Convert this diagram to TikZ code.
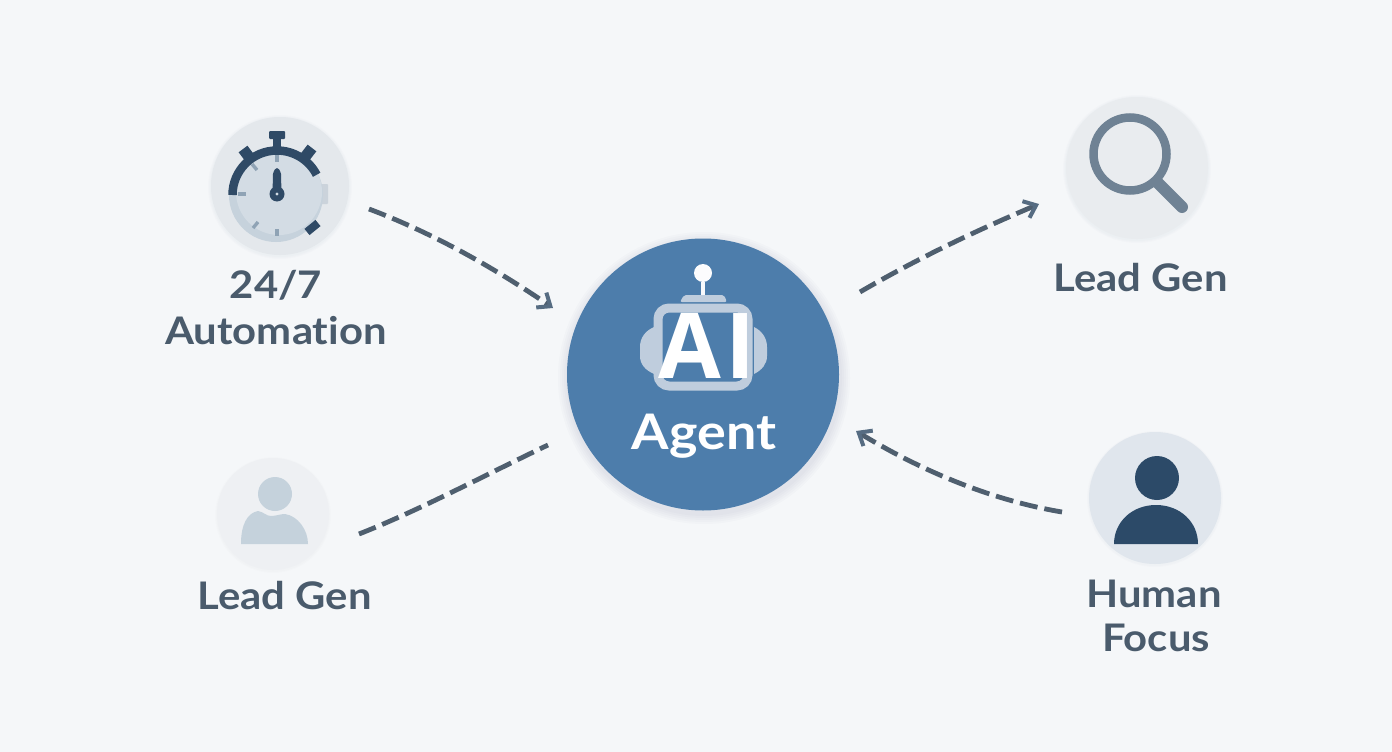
\documentclass[tikz,border=0pt]{standalone}
\usepackage{fontspec}
\setmainfont[FakeStretch=1.1,Ligatures=NoCommon]{Lato}
\newfontfamily\aifont{Open Sans}
\usetikzlibrary{arrows.meta}
\definecolor{bgc}{HTML}{F5F7F9}
\definecolor{txt}{HTML}{4A5B6C}
\definecolor{dashc}{HTML}{4F5F6F}
\definecolor{headc}{HTML}{566C82}
\definecolor{hubblue}{HTML}{4D7DAB}
\definecolor{pale}{HTML}{BFCDDD}
\definecolor{navy}{HTML}{2F4A66}
\definecolor{navyb}{HTML}{2C4A68}
\definecolor{discA}{HTML}{E4E8EC}
\definecolor{discB}{HTML}{E9ECEF}
\definecolor{discC}{HTML}{EEF0F3}
\definecolor{discD}{HTML}{E0E6ED}
\definecolor{faceC}{HTML}{C6D2DC}
\definecolor{faceL}{HTML}{D3DCE4}
\definecolor{tick}{HTML}{8FA3B5}
\definecolor{tabc}{HTML}{CBD3DB}
\definecolor{glass}{HTML}{6F8294}
\definecolor{personP}{HTML}{C5D2DC}
\tikzset{
 x=1pt,y=-1pt,
 disc/.style={circle,inner sep=0pt,draw=none},
 lbl/.style={text=txt,font=\fontsize{38}{44}\selectfont\bfseries,inner sep=0pt,anchor=base},
 link/.style={draw=dashc,line width=4.8pt,dash pattern=on 18pt off 7pt},
 linkhead/.style={link,-{Straight Barb[length=11pt,width=18pt,line width=4pt,color=headc]}},
 minor/.style={tick,line width=3.4pt},
 lug/.style={navy,line width=11pt},
}
\begin{document}
\begin{tikzpicture}
\useasboundingbox (0,0) rectangle (1392,752);
\fill[bgc] (0,0) rectangle (1392,752);
% central shadow
\foreach \r in {146,144,142,140,138}{\fill[navy,opacity=.02] (704,378) circle (\r);}
\node[disc,fill=hubblue,minimum size=272pt] (hub) at (703,374.5) {};
% robot
\fill[pale] (654,327) .. controls (645,331) and (640,338) .. (640,347) -- (640,356) .. controls (640,364) and (645,370) .. (654,374) -- cycle;
\fill[pale] (754,327) .. controls (762,331) and (767,338) .. (767,347) -- (767,356) .. controls (767,364) and (762,370) .. (754,374) -- cycle;
\fill[pale,rounded corners=2pt] (680,302) -- (684,295) -- (724,295) -- (727,302) -- cycle;
\draw[pale,line width=9pt,rounded corners=11pt] (658,308) rectangle (748,386);
\node[disc,fill=white!95!pale,minimum size=18pt] (ball) at (703,273) {};
\coordinate (mast) at (703,295);
\draw[white!90!pale,line width=4pt] (ball) -- (mast);
\node[inner sep=0pt,text=white,anchor=base,font=\aifont\fontsize{91}{91}\selectfont\bfseries] (ai) at (707,378) {A\kern5pt I};
\node[inner sep=0pt,text=white,anchor=base,font=\fontsize{49}{54}\selectfont\bfseries] (agent) at (704,449) {Agent};
% stopwatch
\foreach \r in {72,71,70}{\fill[navy,opacity=.012] (280,187) circle (\r);}
\node[disc,fill=discA,minimum size=138pt] (d1) at (280,186) {};
\fill[tabc,rounded corners=1pt] (318,184) rectangle (328,204);
\fill[faceC] (276,195) circle (47);
\fill[faceL] (279,192) circle (43);
\draw[navy,line width=8.5pt] (232.5,195) arc[start angle=180,end angle=333,radius=44.5];
\fill[navy,rounded corners=1pt] (269,131) rectangle (285,139);
\fill[navy] (273,139) rectangle (281,148);
\draw[lug] (249,157) -- (243,149);
\draw[lug] (305,157) -- (312,148);
\draw[navy,line width=8pt] (307,232) -- (318,223);
\draw[minor] (277,155) -- (277,162);
\draw[minor] (252,164) -- (257,170);
\draw[minor] (238,194) -- (246,194);
\draw[minor] (253,228) -- (258,222);
\draw[minor] (277,229) -- (277,236);
\fill[navy] (272.5,193) -- (273,174) .. controls (274,170) and (275.5,168) .. (277,168) .. controls (278.5,168) and (280,170) .. (281,174) -- (281.5,193) -- cycle;
\fill[navy] (277,194) circle (7.5);
\fill[faceL] (277,194) circle (1.6);
% magnifier
\foreach \r in {74,73,72}{\fill[navy,opacity=.01] (1137,169) circle (\r);}
\node[disc,fill=discB,minimum size=142pt] (d2) at (1137,168) {};
\draw[glass,line width=8.5pt] (1130,154) circle (36.5);
\draw[glass,line width=12pt,line cap=round] (1158,183) -- (1182,207);
% faded person
\foreach \r in {58,57}{\fill[navy,opacity=.008] (273,515) circle (\r);}
\node[disc,fill=discC,minimum size=112pt] (d3) at (273,514) {};
\fill[personP] (275,494) circle (17);
\fill[personP] (241,544) .. controls (241,525) and (247,513) .. (258,511) .. controls (264,512) and (266,516) .. (271,516) .. controls (276,516) and (280,514) .. (285,514) .. controls (298,516) and (308,530) .. (308,544) -- cycle;
% dark person
\foreach \r in {68,67}{\fill[navy,opacity=.01] (1155,499) circle (\r);}
\node[disc,fill=discD,minimum size=132pt] (d4) at (1155,498) {};
\fill[navyb] (1157,478) circle (22);
\fill[navyb] (1114,544) -- (1198,544) .. controls (1198,522) and (1180,505) .. (1156,505) .. controls (1132,505) and (1114,522) .. (1114,544) -- cycle;
% labels
\node[lbl] (l1a) at (276,298) {24/7};
\node[lbl] (l1b) at (276,344) {Automation};
\node[lbl] (l2) at (1140.5,291) {Lead Gen};
\node[lbl] (l3) at (284.5,609) {Lead Gen};
\node[lbl] (l4a) at (1154,607) {Human};
\node[lbl] (l4b) at (1156,651) {Focus};
% connectors
\coordinate (a1s) at (369,209); \coordinate (a1e) at (553,308);
\coordinate (a2s) at (860,292); \coordinate (a2e) at (1039,204);
\coordinate (a3s) at (1062,512); \coordinate (a3e) at (856,431);
\coordinate (a4s) at (359,534); \coordinate (a4e) at (548,445);
\draw[linkhead] (a1s) .. controls (430,232) and (490,265) .. (a1e);
\draw[linkhead] (a2s) .. controls (920,257) and (980,229) .. (a2e);
\draw[linkhead] (a3s) .. controls (990,500) and (920,470) .. (a3e);
\draw[link] (a4s) .. controls (420,510) and (485,475) .. (a4e);
\end{tikzpicture}
\end{document}
